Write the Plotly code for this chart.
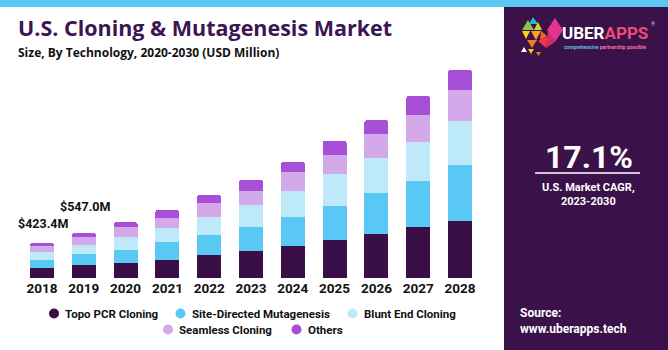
import plotly.graph_objects as go

years = ["2018", "2019", "2020", "2021", "2022", "2023", "2024", "2025", "2026", "2027", "2028"]
topo_pcr = [127, 157, 187, 220, 280, 328, 388, 460, 535, 619, 688]
site_directed = [90, 130, 152, 220, 240, 292, 352, 412, 492, 552, 672]
blunt_end = [99, 110, 160, 168, 220, 260, 308, 380, 420, 468, 532]
seamless = [66.4, 94, 120, 113, 161, 168, 228, 228, 284, 320, 368]
others = [41, 56, 56, 100, 100, 132, 120, 172, 168, 228, 240]

series_names = ["Topo PCR Cloning", "Site-Directed Mutagenesis", "Blunt End Cloning",
                "Seamless Cloning", "Others"]
series_values = [topo_pcr, site_directed, blunt_end, seamless, others]
colors = ["#3a0f47", "#5ac8f5", "#bde9f9", "#d3a9ea", "#a74fd6"]

label_years = ["2018", "2019"]
label_texts = ["$423.4M", "$547.0M"]
label_shifts = [10, 17]

W, H = 668, 350
FONT = "Roboto"
TFONT = "Open Sans"


def px(x):
    return x / W


def py(y):
    return (H - y) / H


fig = go.Figure()
for name, vals, col in zip(series_names, series_values, colors):
    fig.add_trace(go.Bar(x=years, y=vals, name=name, marker=dict(color=col, line=dict(width=0)),
                         showlegend=False, hoverinfo="x+y+name"))

totals = [sum(v) for v in zip(*series_values)]

annotations = []
for yr, txt, sh in zip(label_years, label_texts, label_shifts):
    i = years.index(yr)
    annotations.append(dict(x=i, y=totals[i], xref="x", yref="y", text=txt, showarrow=False,
                            yanchor="bottom", yshift=sh, xshift=1,
                            font=dict(family=FONT, size=12.5, color="#111111", weight="bold")))

# Title & subtitle
annotations.append(dict(x=px(16), y=py(27), xref="paper", yref="paper", xanchor="left", yanchor="middle",
                        text="U.S. Cloning & Mutagenesis Market", showarrow=False,
                        font=dict(family=TFONT, size=21.5, color="#3c1553", weight="bold")))
annotations.append(dict(x=px(16), y=py(52), xref="paper", yref="paper", xanchor="left", yanchor="middle",
                        text="Size, By Technology, 2020-2030 (USD Million)", showarrow=False,
                        font=dict(family=TFONT, size=12, color="#111111", weight="bold")))

shapes = []
# top strip and right panel
shapes.append(dict(type="rect", xref="paper", yref="paper", x0=0, x1=1, y0=py(7), y1=1,
                   fillcolor="#5cc8f4", line=dict(width=0), layer="below"))
shapes.append(dict(type="rect", xref="paper", yref="paper", x0=px(504), x1=1, y0=0, y1=py(7),
                   fillcolor="#3a1148", line=dict(width=0), layer="below"))

# Legend (manual, centred rows)
legend_pos = [(54, 313.5), (180.5, 313.5), (352.5, 313.5), (168, 329.5), (296.5, 329.5)]
for (cx, cy), name, col in zip(legend_pos, series_names, colors):
    r = 5
    shapes.append(dict(type="circle", xref="paper", yref="paper", x0=px(cx - r), x1=px(cx + r),
                       y0=py(cy + r), y1=py(cy - r), fillcolor=col, line=dict(width=0)))
    annotations.append(dict(x=px(cx + 9), y=py(cy), xref="paper", yref="paper", xanchor="left",
                            yanchor="middle", text=name, showarrow=False,
                            font=dict(family=FONT, size=11.5, color="#111111", weight="bold")))

# Right panel texts
annotations.append(dict(x=px(589), y=py(157), xref="paper", yref="paper", xanchor="center", yanchor="middle",
                        text="17.1%", showarrow=False,
                        font=dict(family=FONT, size=32, color="white", weight="bold")))
shapes.append(dict(type="line", xref="paper", yref="paper", x0=px(535), x1=px(640), y0=py(173), y1=py(173),
                   line=dict(color="white", width=1.5)))
annotations.append(dict(x=px(588), y=py(194), xref="paper", yref="paper", xanchor="center", yanchor="middle",
                        text="U.S. Market CAGR,<br>2023-2030", showarrow=False,
                        font=dict(family=FONT, size=11, color="white", weight="bold")))
annotations.append(dict(x=px(518), y=py(320.5), xref="paper", yref="paper", xanchor="left", yanchor="middle",
                        text="Source:<br>www.uberapps.tech", showarrow=False, align="left",
                        font=dict(family=FONT, size=12, color="white", weight="bold")))

# Logo text
annotations.append(dict(x=px(560), y=py(33), xref="paper", yref="paper", xanchor="left", yanchor="middle",
                        text="<span style='color:white'>UBER</span><span style='color:#ef4b78'>APPS</span>",
                        showarrow=False, font=dict(family=FONT, size=17, weight="bold")))
annotations.append(dict(x=px(653), y=py(24), xref="paper", yref="paper", xanchor="center", yanchor="middle",
                        text="®", showarrow=False, font=dict(family=FONT, size=5, color="#d9c9e0")))
annotations.append(dict(x=px(562), y=py(47.5), xref="paper", yref="paper", xanchor="left", yanchor="middle",
                        text="<span style='color:#5fc0d8'>comprehensive</span> "
                             "<span style='color:#f07a9a'>partnership possible</span>",
                        showarrow=False, font=dict(family=FONT, size=5, weight="bold")))

# Logo triangles (decorative)
tris = [
    ([(528, 20), (522, 30), (534, 30)], "#8cc63f"),
    ([(533, 17), (529, 24), (538, 24)], "#27b6d9"),
    ([(538, 22), (534, 30), (542, 30)], "#c6d92f"),
    ([(522, 31), (530, 31), (526, 39)], "#f7d117"),
    ([(531, 31), (541, 31), (536, 40)], "#f7a21d"),
    ([(527, 40), (537, 40), (532, 48)], "#f47b20"),
    ([(538, 41), (548, 36), (546, 48)], "#ee3b3b"),
    ([(541, 31), (547, 36), (540, 40)], "#f26522"),
    ([(555, 18), (547, 30), (555, 42), (563, 30)], "#e6338d"),
    ([(548, 31), (555, 42), (546, 48)], "#d62a6b"),
    ([(528, 49), (534, 49), (531, 54)], "#f7c31d"),
    ([(524, 47), (527, 52), (521, 52)], "#ffffff"),
    ([(536, 52), (541, 52), (538.5, 56)], "#f47b20"),
]
for pts, col in tris:
    path = "M " + " L ".join(f"{px(x)},{py(y)}" for x, y in pts) + " Z"
    shapes.append(dict(type="path", xref="paper", yref="paper", path=path, fillcolor=col, line=dict(width=0)))

fig.update_layout(
    width=W, height=H, margin=dict(l=0, r=0, t=0, b=0),
    paper_bgcolor="white", plot_bgcolor="white",
    barmode="stack", bargap=0.426, barcornerradius=3,
    xaxis=dict(type="category", range=[-0.5, 10.5], domain=[px(21.1), px(480.9)],
               showgrid=False, zeroline=False, showline=False, ticks="",
               tickfont=dict(family=FONT, size=13.5, color="#111111", weight="bold")),
    yaxis=dict(range=[0, 2800], domain=[py(278.3), py(45)], visible=False, showgrid=False),
    annotations=annotations, shapes=shapes, showlegend=False,
)

fig.write_html("out.html")
